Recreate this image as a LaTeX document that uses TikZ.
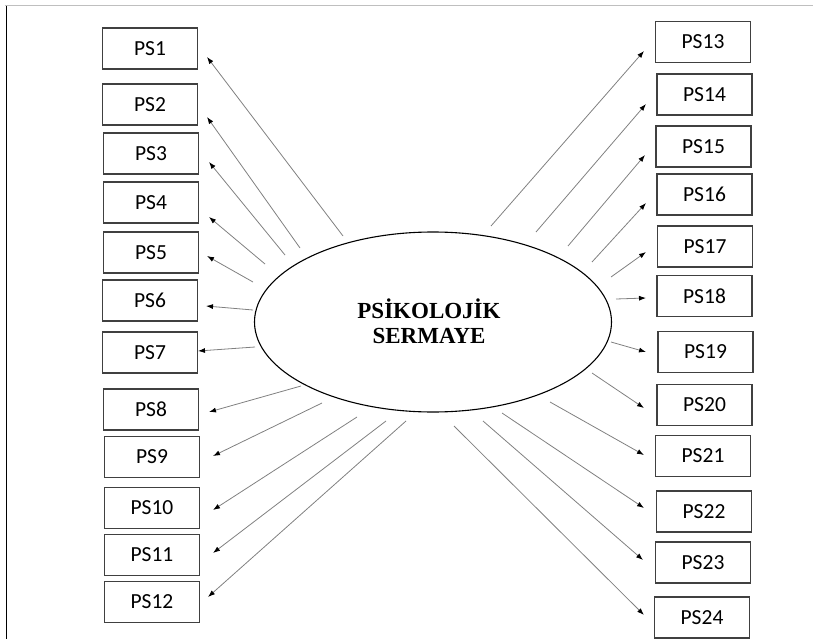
\documentclass[tikz,border=0pt]{standalone}
\usepackage{fontspec}
\setmainfont{Carlito}
\newfontfamily\titlefont{Liberation Serif}
\usetikzlibrary{arrows.meta,shapes.geometric}

\tikzset{
  itembox/.style={draw=black!75, line width=1.1pt, minimum width=95pt, minimum height=41pt,
    inner sep=0pt, font=\fontsize{21.5}{24}\selectfont},
  latent/.style={draw=black, line width=1.1pt, ellipse, minimum width=357pt, minimum height=180pt,
    inner sep=0pt},
  loading/.style={draw=black!50, line width=0.8pt, -{Latex[black,length=7pt,width=5pt]}},
}

\begin{document}
\begin{tikzpicture}[x=1pt,y=-1pt]
  \useasboundingbox (0,0) rectangle (813,639);
  % page frame
  \draw[black!25, line width=1pt] (5,6) -- (813,6);
  \draw[black, line width=1.2pt] (6.5,6) -- (6.5,639);

  % latent construct
  \node[latent] (ps) at (433,322) {};
  \node[font=\titlefont\bfseries\fontsize{23}{25}\selectfont, align=center] (pslabel) at (429,321)
    {PS\.IKOLOJ\.IK\\SERMAYE};

  % indicators, left column
  \node[itembox] (p1)  at (150,48.5)  {PS1};
  \node[itembox] (p2)  at (150,104.5) {PS2};
  \node[itembox] (p3)  at (151,153.5) {PS3};
  \node[itembox] (p4)  at (151,202.5) {PS4};
  \node[itembox] (p5)  at (151,252.5) {PS5};
  \node[itembox] (p6)  at (150,300.5) {PS6};
  \node[itembox] (p7)  at (150,352.5) {PS7};
  \node[itembox] (p8)  at (151,409.5) {PS8};
  \node[itembox] (p9)  at (152,457)   {PS9};
  \node[itembox] (p10) at (152,508)   {PS10};
  \node[itembox] (p11) at (152,555)   {PS11};
  \node[itembox] (p12) at (152,602)   {PS12};

  % indicators, right column
  \node[itembox] (p13) at (703,42)    {PS13};
  \node[itembox] (p14) at (704.5,94.5) {PS14};
  \node[itembox] (p15) at (703.5,146.5) {PS15};
  \node[itembox] (p16) at (704.5,194.5) {PS16};
  \node[itembox] (p17) at (705,246.5) {PS17};
  \node[itembox] (p18) at (704.5,296) {PS18};
  \node[itembox] (p19) at (705.5,352) {PS19};
  \node[itembox] (p20) at (704.5,405) {PS20};
  \node[itembox] (p21) at (703,456)   {PS21};
  \node[itembox] (p22) at (704,511.5) {PS22};
  \node[itembox] (p23) at (703,562.5) {PS23};
  \node[itembox] (p24) at (702,617.5) {PS24};

  % loading arrows: start near the ellipse, tip just short of each box
  \coordinate (s1) at (343,236);  \coordinate (t1) at (207,57);
  \coordinate (s2) at (300,248);  \coordinate (t2) at (207,117);
  \coordinate (s3) at (285,255);  \coordinate (t3) at (209,162);
  \coordinate (s4) at (265,264);  \coordinate (t4) at (209,217);
  \coordinate (s5) at (253,282);  \coordinate (t5) at (207,256);
  \coordinate (s6) at (253,310);  \coordinate (t6) at (206,306);
  \coordinate (s7) at (255,347);  \coordinate (t7) at (198,351);
  \coordinate (s8) at (301,386);  \coordinate (t8) at (209,412);
  \coordinate (s9) at (322,403);  \coordinate (t9) at (213,456);
  \coordinate (s10) at (357,417); \coordinate (t10) at (213,510);
  \coordinate (s11) at (386,421); \coordinate (t11) at (213,553);
  \coordinate (s12) at (406,421); \coordinate (t12) at (208,597);

  \coordinate (s13) at (491,226); \coordinate (t13) at (644,51);
  \coordinate (s14) at (536,232); \coordinate (t14) at (646,104);
  \coordinate (s15) at (568,246); \coordinate (t15) at (645,155);
  \coordinate (s16) at (592,262); \coordinate (t16) at (646,203);
  \coordinate (s17) at (611,277); \coordinate (t17) at (646,252);
  \coordinate (s18) at (616,299); \coordinate (t18) at (646,298);
  \coordinate (s19) at (611,342); \coordinate (t19) at (646,352);
  \coordinate (s20) at (592,373); \coordinate (t20) at (644,408);
  \coordinate (s21) at (550,402); \coordinate (t21) at (644,455);
  \coordinate (s22) at (502,413); \coordinate (t22) at (644,508);
  \coordinate (s23) at (483,421); \coordinate (t23) at (643,560);
  \coordinate (s24) at (454,426); \coordinate (t24) at (644,615);

  \foreach \i in {1,...,24} {
    \draw[loading] (s\i) -- (t\i);
  }
\end{tikzpicture}
\end{document}
